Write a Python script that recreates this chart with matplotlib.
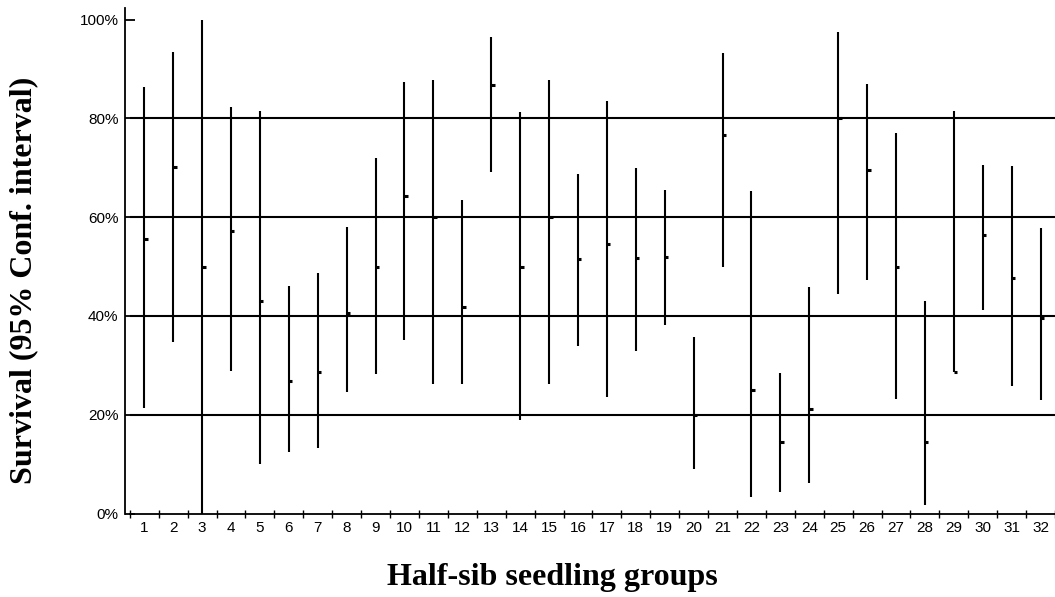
import matplotlib
matplotlib.use("Agg")
import matplotlib.pyplot as plt
import numpy as np

groups = list(range(1, 33))
upper = [86.4, 93.4, 100.0, 82.4, 81.6, 46.1, 48.7, 58.0, 71.9, 87.4,
         87.8, 63.4, 96.5, 81.4, 87.8, 68.7, 83.5, 69.9, 65.5, 35.8,
         93.2, 65.3, 28.4, 45.8, 97.5, 86.9, 77.1, 43.1, 81.6, 70.5,
         70.3, 57.8]
lower = [21.4, 34.8, 0.0, 28.9, 10.0, 12.4, 13.3, 24.7, 28.3, 35.2,
         26.3, 26.3, 69.2, 18.9, 26.3, 34.0, 23.6, 33.0, 38.1, 9.1,
         50.0, 3.3, 4.4, 6.1, 44.4, 47.2, 23.1, 1.8, 28.6, 41.2,
         25.9, 22.9]
estimate = [55.6, 70.2, 50.0, 57.2, 43.0, 26.8, 28.7, 40.7, 50.0, 64.3,
            60.0, 41.8, 86.8, 50.0, 60.0, 51.5, 54.6, 51.7, 51.9, 20.0,
            76.6, 25.1, 14.4, 21.2, 80.0, 69.6, 50.0, 14.4, 28.6, 56.3,
            47.7, 39.5]
yticks = [0, 20, 40, 60, 80, 100]
ytick_labels = ["0%", "20%", "40%", "60%", "80%", "100%"]

W, H = 1055, 597
fig = plt.figure(figsize=(W / 100, H / 100), dpi=100)
ax = fig.add_axes([125.5 / W, 1 - 513.5 / H, 1 - 125.5 / W, (513.5 - 8.3) / H])

x = np.array(groups)
ax.set_xlim(0.35, 32.5)
ax.set_ylim(0, 102.3)

# gridlines
ax.hlines([20, 40, 60, 80], 0.5, 32.5, colors="black", linewidth=1.5, zorder=1)

# CI lines
ax.vlines(x, lower, upper, colors="black", linewidth=1.5, zorder=2)
# point estimates: short tick to the right
ax.hlines(estimate, x, x + 0.12, colors="black", linewidth=2.2, zorder=3)

for s in ["top", "right"]:
    ax.spines[s].set_visible(False)
ax.spines["left"].set_linewidth(1.3)
ax.spines["bottom"].set_linewidth(1.3)
ax.spines["bottom"].set_bounds(0.5, 32.5)

ax.set_yticks(yticks)
ax.set_yticklabels(ytick_labels, fontsize=11, family="Liberation Sans")
ax.tick_params(axis="y", direction="in", length=7, width=1.3, pad=5)

ax.set_xticks(x)
ax.set_xticklabels([str(g) for g in groups], fontsize=11, family="Liberation Sans")
ax.tick_params(axis="x", which="major", length=0, pad=5.5)
ax.set_xticks(np.arange(0.5, 33, 1.0), minor=True)
ax.tick_params(axis="x", which="minor", direction="inout", length=6, width=1.0)

fig.text(552 / W, 1 - 585 / H, "Half-sib seedling groups", fontsize=23,
         fontweight="bold", family="Liberation Serif", ha="center", va="baseline")
fig.text(24 / W, 1 - 280 / H, "Survival (95% Conf. interval)", fontsize=23,
         fontweight="bold", family="Liberation Serif", ha="center", va="center",
         rotation=90)

fig.savefig("out.png", dpi=100)
